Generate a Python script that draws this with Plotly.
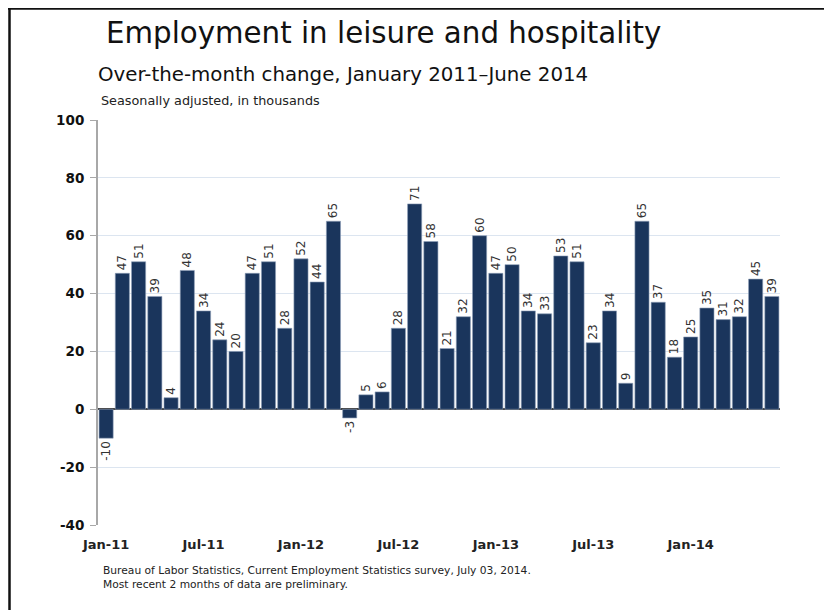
import plotly.graph_objects as go

months = ["Jan-11","Feb-11","Mar-11","Apr-11","May-11","Jun-11","Jul-11","Aug-11","Sep-11","Oct-11","Nov-11","Dec-11",
          "Jan-12","Feb-12","Mar-12","Apr-12","May-12","Jun-12","Jul-12","Aug-12","Sep-12","Oct-12","Nov-12","Dec-12",
          "Jan-13","Feb-13","Mar-13","Apr-13","May-13","Jun-13","Jul-13","Aug-13","Sep-13","Oct-13","Nov-13","Dec-13",
          "Jan-14","Feb-14","Mar-14","Apr-14","May-14","Jun-14"]
changes = [-10, 47, 51, 39, 4, 48, 34, 24, 20, 47, 51, 28,
           52, 44, 65, -3, 5, 6, 28, 71, 58, 21, 32, 60,
           47, 50, 34, 33, 53, 51, 23, 34, 9, 65, 37, 18,
           25, 35, 31, 32, 45, 39]
tick_labels = ["Jan-11", "Jul-11", "Jan-12", "Jul-12", "Jan-13", "Jul-13", "Jan-14"]
y_ticks = [-40, -20, 0, 20, 40, 60, 80, 100]
y_tick_text = ["-40", "-20", "0", "20", "40", "60", "80", "100"]

idx = list(range(len(months)))
tick_pos = [months.index(t) for t in tick_labels]

# page body has an 8px margin: lay out in screen pixels, shift by OFF
OFF = 8
W, H = 832 - OFF, 610 - OFF
PL, PR, PT, PB = 98, 780, 120, 525          # plot area on screen
L, T = PL - OFF, PT - OFF
R, B = W - (PR - OFF), H - (PB - OFF)
PW, PH = PR - PL, PB - PT

def px(x):
    return (x - PL) / PW

def py(y):
    return (PB - y) / PH

fig = go.Figure(go.Bar(
    x=idx, y=changes,
    marker=dict(color="#1a355c", line=dict(color="#8fa0b8", width=0.6)),
    text=[str(v) for v in changes], textposition="outside", textangle=-90,
    constraintext="none",
    textfont=dict(family="DejaVu Sans", size=12, color="#333333"),
    cliponaxis=False, hoverinfo="skip",
))

fig.update_layout(
    width=W, height=H, margin=dict(l=L, r=R, t=T, b=B, pad=0),
    paper_bgcolor="white", plot_bgcolor="white",
    showlegend=False, bargap=0.13,
    xaxis=dict(range=[-0.5, len(months) - 0.5], tickvals=tick_pos, ticktext=tick_labels,
               showgrid=False, zeroline=False, showline=False, ticks="",
               ticklabelstandoff=10,
               tickfont=dict(family="DejaVu Sans", size=13, color="#222222", weight="bold")),
    yaxis=dict(range=[-40, 100], tickvals=y_ticks, ticktext=y_tick_text,
               showgrid=True, gridcolor="#dce5f0", gridwidth=1,
               zeroline=True, zerolinecolor="#444444", zerolinewidth=1.5,
               showline=True, linecolor="#a8a8a8", linewidth=2,
               ticks="outside", ticklen=6, tickcolor="#a8a8a8", ticklabelstandoff=3,
               tickfont=dict(family="DejaVu Sans", size=13.5, color="#111111", weight="bold")),
    font=dict(family="DejaVu Sans"),
)

annots = [
    dict(text="Employment in leisure and hospitality", x=px(104), y=py(33), size=29.3, color="#111111"),
    dict(text="Over-the-month change, January 2011\u2013June 2014", x=px(96), y=py(75), size=19.8, color="#111111"),
    dict(text="Seasonally adjusted, in thousands", x=px(99), y=py(101), size=12.8, color="#222222"),
    dict(text="Bureau of Labor Statistics, Current Employment Statistics survey, July 03, 2014.", x=px(101), y=py(570), size=10.7, color="#222222"),
    dict(text="Most recent 2 months of data are preliminary.", x=px(101), y=py(584), size=10.7, color="#222222"),
]
for a in annots:
    fig.add_annotation(text=a["text"], x=a["x"], y=a["y"], xref="paper", yref="paper",
                       xanchor="left", yanchor="middle", showarrow=False,
                       font=dict(family="DejaVu Sans", size=a["size"], color=a["color"]))

# partial frame (top and left edges)
fig.add_shape(type="line", xref="paper", yref="paper", x0=px(8), x1=px(840), y0=py(8.5), y1=py(8.5),
              line=dict(color="#111111", width=2.5))
fig.add_shape(type="line", xref="paper", yref="paper", x0=px(9.5), x1=px(9.5), y0=py(8), y1=py(620),
              line=dict(color="#111111", width=2.5))

fig.write_html("out.html")
